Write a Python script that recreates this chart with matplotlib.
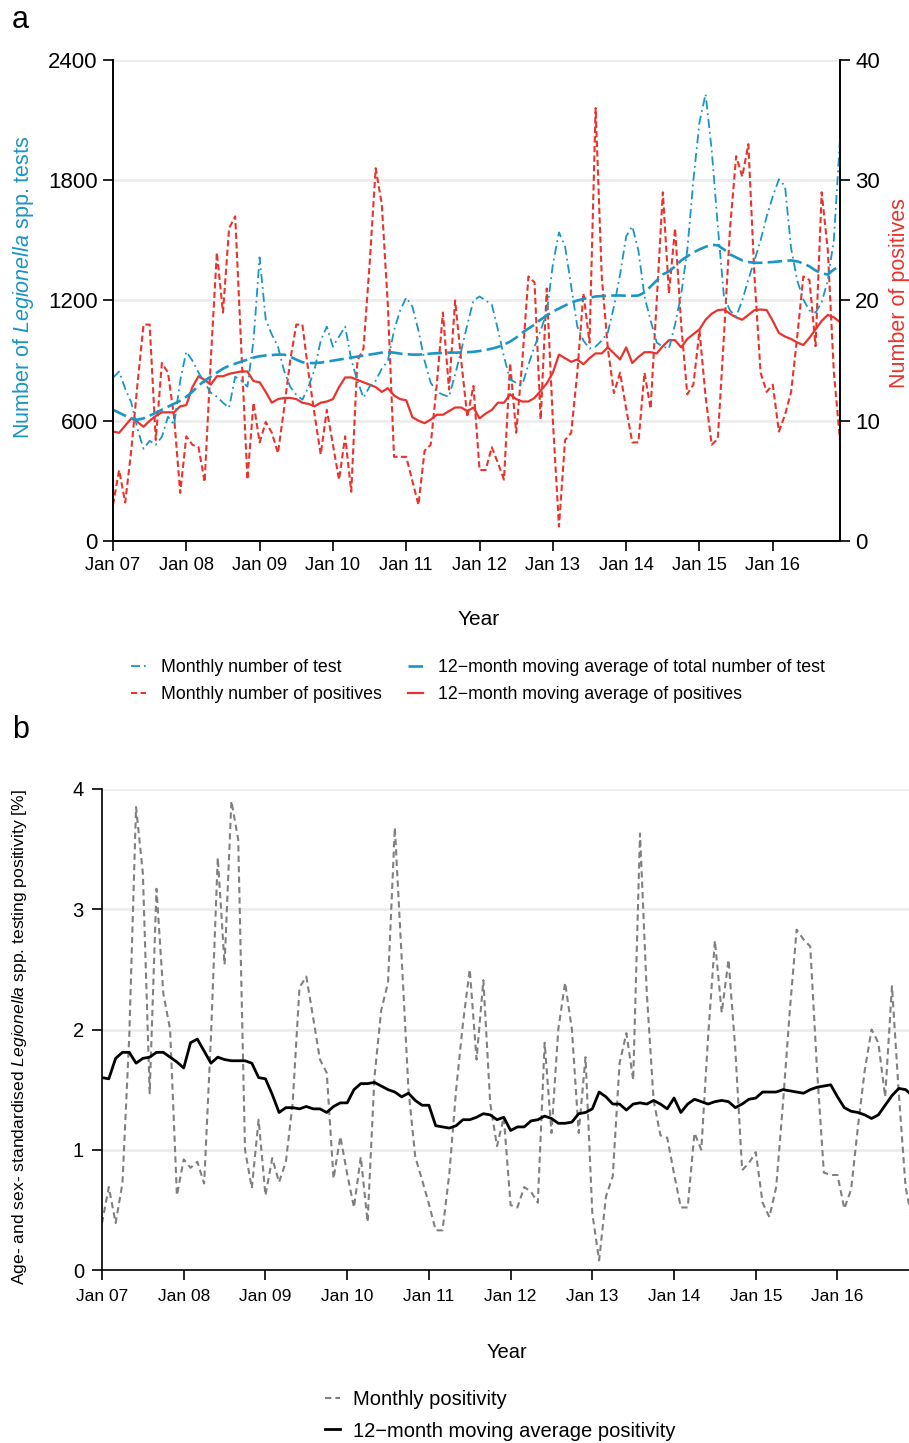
import matplotlib
matplotlib.use("Agg")
import matplotlib.pyplot as plt
from matplotlib.lines import Line2D

plt.rcParams['font.family'] = ['Liberation Sans', 'DejaVu Sans']
plt.rcParams['mathtext.fontset'] = 'custom'
plt.rcParams['mathtext.rm'] = 'Liberation Sans'
plt.rcParams['mathtext.it'] = 'Liberation Sans:italic'

# ---------------- data (monthly, Jan 2007 - Dec 2016) ----------------
year_labels = ["Jan 07", "Jan 08", "Jan 09", "Jan 10", "Jan 11",
               "Jan 12", "Jan 13", "Jan 14", "Jan 15", "Jan 16"]

monthly_tests = [815, 845, 760, 690, 560, 460, 500, 480, 520, 620, 580, 800,
                 945, 900, 840, 790, 740, 720, 690, 665, 820, 800, 770, 1000,
                 1415, 1105, 1030, 970, 850, 770, 730, 705, 770, 855, 1000, 1070,
                 970, 1020, 1070, 905, 800, 715, 770, 800, 860, 900, 1050, 1150,
                 1215, 1170, 1050, 900, 790, 745, 730, 720, 830, 950, 1080, 1200,
                 1220, 1200, 1180, 1055, 920, 805, 790, 780, 880, 970, 1050, 1140,
                 1380, 1540, 1470, 1270, 1070, 1000, 960, 970, 1000, 1040, 1170, 1330,
                 1520, 1570, 1450, 1220, 1100, 990, 970, 960, 1080, 1230, 1450, 1800,
                 2090, 2230, 1950, 1570, 1220, 1150, 1120, 1200, 1305, 1400, 1500, 1620,
                 1720, 1805, 1770, 1460, 1300, 1205, 1150, 1140, 1190, 1300, 1505, 2005]

ma_tests = [655, 640, 625, 612, 605, 612, 625, 640, 655, 670, 685, 700,
            720, 745, 775, 800, 820, 840, 860, 875, 885, 895, 905, 915,
            922, 926, 928, 930, 930, 920, 905, 892, 888, 888, 890, 895,
            900, 905, 910, 915, 920, 925, 930, 935, 940, 942, 940, 935,
            932, 930, 930, 932, 935, 937, 938, 940, 940, 941, 942, 944,
            948, 953, 960, 968, 980, 995, 1015, 1040, 1060, 1080, 1105, 1125,
            1145, 1160, 1175, 1190, 1200, 1208, 1214, 1220, 1222, 1224, 1225, 1225,
            1224, 1223, 1225, 1240, 1270, 1300, 1330, 1345, 1370, 1400, 1420, 1440,
            1455, 1468, 1478, 1475, 1455, 1430, 1415, 1400, 1392, 1388, 1388, 1390,
            1392, 1395, 1398, 1400, 1395, 1385, 1370, 1350, 1335, 1330, 1355, 1370]

monthly_positives = [3.0, 5.9, 3.2, 7.6, 13.0, 18.0, 18.0, 8.4, 14.8, 14.0, 10.3, 4.0,
                     8.7, 8.0, 7.8, 4.9, 15.0, 24.0, 19.0, 26.0, 27.0, 16.0, 5.1, 11.5,
                     8.2, 9.9, 9.0, 7.3, 11.0, 15.0, 18.0, 18.0, 14.0, 10.5, 7.2, 10.9,
                     8.0, 5.1, 8.7, 4.1, 15.0, 16.0, 23.0, 31.0, 28.0, 19.5, 7.0, 7.0,
                     7.0, 5.0, 3.0, 7.5, 8.0, 13.0, 19.0, 12.6, 20.0, 15.0, 10.3, 12.9,
                     5.9, 5.9, 7.8, 6.5, 5.1, 14.8, 9.0, 15.0, 22.0, 21.5, 10.1, 21.0,
                     10.0, 1.2, 8.4, 9.0, 14.0, 20.6, 16.5, 36.0, 22.0, 16.0, 12.3, 14.0,
                     11.0, 8.2, 8.2, 14.0, 11.0, 20.0, 29.0, 20.6, 26.0, 18.0, 12.2, 13.0,
                     17.5, 12.0, 8.0, 8.5, 17.0, 26.0, 32.0, 30.3, 33.0, 22.0, 14.0, 12.4,
                     13.0, 9.1, 10.5, 12.4, 17.0, 22.0, 21.7, 16.2, 29.0, 24.2, 14.0, 8.4]

ma_positives = [9.1, 9.0, 9.6, 10.2, 9.9, 9.5, 10.0, 10.4, 10.7, 10.7, 10.7, 11.2,
                11.3, 12.8, 13.7, 13.4, 13.0, 13.7, 13.7, 13.9, 14.0, 14.1, 14.1, 13.3,
                13.2, 12.4, 11.5, 11.8, 11.9, 11.9, 11.8, 11.5, 11.4, 11.2, 11.5, 11.6,
                11.8, 12.8, 13.6, 13.6, 13.4, 13.2, 13.0, 12.8, 12.4, 12.7, 12.1, 11.8,
                11.7, 10.3, 10.0, 9.8, 10.1, 10.5, 10.5, 10.8, 11.1, 11.1, 10.8, 11.1,
                10.2, 10.6, 10.9, 11.5, 11.5, 12.2, 11.8, 11.6, 11.6, 11.9, 12.5, 13.1,
                14.0, 15.5, 15.2, 14.9, 15.1, 14.7, 15.2, 15.6, 15.6, 16.1, 15.6, 15.1,
                16.1, 14.8, 15.3, 15.7, 15.7, 15.6, 16.2, 16.7, 16.7, 16.1, 16.8, 17.2,
                17.6, 18.4, 18.9, 19.2, 19.25, 18.9, 18.6, 18.4, 18.8, 19.2, 19.25, 19.2,
                18.3, 17.3, 17.0, 16.8, 16.5, 16.3, 16.9, 17.6, 18.3, 18.8, 18.6, 18.2]

monthly_positivity = [0.39, 0.69, 0.39, 0.72, 1.94, 3.85, 3.3, 1.47, 3.17, 2.3, 2.0, 0.62,
                      0.92, 0.85, 0.9, 0.72, 1.94, 3.43, 2.54, 3.9, 3.58, 1.0, 0.68, 1.25,
                      0.62, 0.93, 0.73, 0.9, 1.39, 2.35, 2.44, 2.1, 1.75, 1.64, 0.76, 1.11,
                      0.8, 0.52, 0.94, 0.4, 1.6, 2.16, 2.39, 3.68, 2.6, 1.5, 0.94, 0.75,
                      0.55, 0.33, 0.33, 0.8, 1.5, 2.05, 2.5, 1.75, 2.41, 1.39, 1.03, 1.27,
                      0.54, 0.52, 0.69, 0.65, 0.56, 1.89, 1.14, 2.0, 2.39, 2.0, 1.14, 1.77,
                      0.47, 0.08, 0.61, 0.78, 1.72, 1.97, 1.58, 3.63, 2.3, 1.41, 1.12, 1.1,
                      0.8, 0.52, 0.52, 1.14, 1.0, 1.94, 2.74, 2.14, 2.58, 1.83, 0.83, 0.89,
                      0.98, 0.56, 0.44, 0.69, 1.39, 2.16, 2.83, 2.75, 2.69, 1.66, 0.81, 0.79,
                      0.79, 0.51, 0.67, 1.19, 1.66, 2.0, 1.89, 1.44, 2.36, 1.47, 0.69, 0.4]

ma_positivity = [1.6, 1.59, 1.76, 1.81, 1.81, 1.72, 1.76, 1.77, 1.81, 1.81, 1.77, 1.73,
                 1.68, 1.89, 1.92, 1.82, 1.72, 1.77, 1.75, 1.74, 1.74, 1.74, 1.72, 1.6,
                 1.59, 1.46, 1.31, 1.35, 1.35, 1.34, 1.36, 1.34, 1.34, 1.31, 1.36, 1.39,
                 1.39, 1.5, 1.55, 1.55, 1.56, 1.53, 1.5, 1.48, 1.44, 1.47, 1.41, 1.37,
                 1.37, 1.2, 1.19, 1.18, 1.2, 1.25, 1.25, 1.27, 1.3, 1.29, 1.25, 1.27,
                 1.16, 1.19, 1.19, 1.24, 1.25, 1.28, 1.26, 1.22, 1.22, 1.23, 1.3, 1.31,
                 1.34, 1.48, 1.44, 1.38, 1.38, 1.33, 1.38, 1.39, 1.38, 1.41, 1.38, 1.34,
                 1.43, 1.31, 1.38, 1.42, 1.4, 1.38, 1.4, 1.41, 1.4, 1.35, 1.38, 1.42,
                 1.43, 1.48, 1.48, 1.48, 1.5, 1.49, 1.48, 1.47, 1.5, 1.52, 1.53, 1.54,
                 1.44, 1.35, 1.32, 1.31, 1.29, 1.26, 1.29, 1.37, 1.45, 1.51, 1.5, 1.45]

months = list(range(len(monthly_tests)))
tick_pos = list(range(0, 120, 12))

BLUE = "#1a96c4"
RED = "#e8342c"
GREY = "#808080"
GRID = "#ececec"

W, H = 909, 1443
fig = plt.figure(figsize=(W / 100, H / 100), dpi=100)


def frac(x0, y0, x1, y1):
    return [x0 / W, 1 - y1 / H, (x1 - x0) / W, (y1 - y0) / H]


# ---------------- panel a ----------------
ax = fig.add_axes(frac(113, 60, 840, 541))
ax2 = ax.twinx()
ax.set_zorder(ax2.get_zorder() + 1)
ax.patch.set_visible(False)

for v in [600, 1200, 1800, 2400]:
    ax2.axhline(v / 60, color=GRID, lw=2, zorder=0)

ax.plot(months, monthly_tests, color=BLUE, lw=1.3, dashes=(5, 2.2, 1, 2.2))
ax.plot(months, ma_tests, color=BLUE, lw=1.9, dashes=(5.5, 2))
ax2.plot(months, monthly_positives, color=RED, lw=1.5, dashes=(3, 1.6))
ax2.plot(months, ma_positives, color=RED, lw=1.6)

ax.set_xlim(0, 119)
ax.set_ylim(0, 2400)
ax2.set_ylim(0, 40)
ax.set_yticks([0, 600, 1200, 1800, 2400])
ax2.set_yticks([0, 10, 20, 30, 40])
ax.set_xticks(tick_pos)
ax.set_xticklabels(year_labels)
for a in (ax, ax2):
    a.spines['top'].set_visible(False)
    for s in a.spines.values():
        s.set_linewidth(1.2)
ax.tick_params(axis='y', labelsize=16, length=7, width=1.2, direction='out', pad=4)
ax2.tick_params(axis='y', labelsize=16, length=7, width=1.2, direction='out', pad=4)
ax.tick_params(axis='x', labelsize=13.2, length=7, width=1.2, direction='out', pad=4.5)

ax.set_ylabel(r"Number of $\mathit{Legionella}$ spp. tests", color=BLUE, fontsize=15.5)
ax.yaxis.set_label_coords((36 - 113) / 727, (541 - 287) / 481)
ax2.set_ylabel("Number of positives", color=RED, fontsize=15.5, labelpad=6)
ax2.yaxis.set_label_coords((889 - 113) / 727, (541 - 293) / 481)
fig.text(479 / W, 1 - 620 / H, "Year", ha='center', va='center', fontsize=15)
fig.text(12 / W, 1 - 20 / H, "a", ha='left', va='center', fontsize=22)

h1 = [Line2D([], [], color=BLUE, lw=1.3, dashes=(5, 2.2, 1, 2.2)),
      Line2D([], [], color=RED, lw=1.5, dashes=(3, 1.6)),
      Line2D([], [], color=BLUE, lw=1.9, dashes=(5.5, 2)),
      Line2D([], [], color=RED, lw=1.6)]
lab1 = ["Monthly number of test", "Monthly number of positives",
        "12\u2212month moving average of total number of test",
        "12\u2212month moving average of positives"]
fig.legend(h1, lab1, ncol=2, frameon=False, fontsize=12.8,
           loc='center left', bbox_to_anchor=(115 / W, 1 - 681 / H),
           handlelength=0.85, handletextpad=0.85, columnspacing=1.46, labelspacing=0.56)

# ---------------- panel b ----------------
bx = fig.add_axes(frac(102, 789, 909, 1270))
for v in [1, 2, 3, 4]:
    bx.axhline(v, color=GRID, lw=2, zorder=0)
bx.plot(months, monthly_positivity, color=GREY, lw=1.5, dashes=(3, 2))
bx.plot(months, ma_positivity, color='black', lw=2.0)
bx.set_xlim(0, 118.5)
bx.set_ylim(0, 4)
bx.set_yticks([0, 1, 2, 3, 4])
bx.set_xticks(tick_pos)
bx.set_xticklabels(year_labels)
bx.spines['top'].set_visible(False)
bx.spines['right'].set_visible(False)
for s in bx.spines.values():
    s.set_linewidth(1.2)
bx.tick_params(axis='y', labelsize=14.5, length=7, width=1.2, direction='out', pad=6)
bx.tick_params(axis='x', labelsize=12.5, length=7, width=1.2, direction='out', pad=7)
bx.set_ylabel(r"Age- and sex- standardised $\mathit{Legionella}$ spp. testing positivity [%]",
              fontsize=12.6)
bx.yaxis.set_label_coords((29 - 102) / 807, (1270 - 1037) / 481)
fig.text(507 / W, 1 - 1352 / H, "Year", ha='center', va='center', fontsize=14.5)
fig.text(12 / W, 1 - 730 / H, "b", ha='left', va='center', fontsize=22)

h2 = [Line2D([], [], color=GREY, lw=1.5, dashes=(3, 2)),
      Line2D([], [], color='black', lw=2.0)]
lab2 = ["Monthly positivity", "12\u2212month moving average positivity"]
fig.legend(h2, lab2, ncol=1, frameon=False, fontsize=14.5,
           loc='center left', bbox_to_anchor=(307 / W, 1 - 1415.5 / H),
           handlelength=0.75, handletextpad=0.65, labelspacing=0.6)

fig.savefig("out.png", dpi=100)
